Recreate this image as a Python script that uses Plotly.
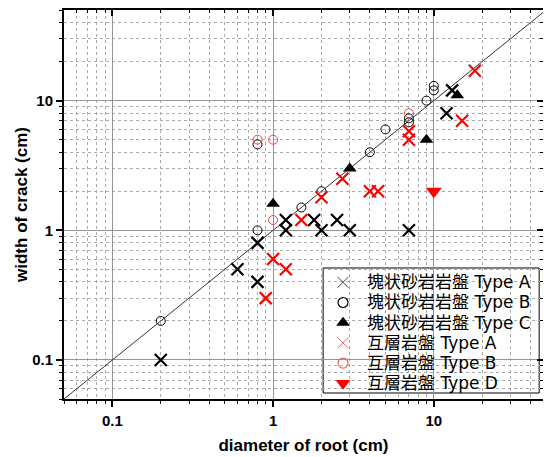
import math
import plotly.graph_objects as go

# Axis limits (log scale, both axes)
AX_MIN = 0.05
AX_MAX = 50.0
X_VIEW_MAX = 47.8

# 塊状砂岩岩盤 (massive sandstone bedrock)
blk_a_x = [0.2, 0.6, 0.8, 0.8, 1.2, 1.2, 1.8, 2.0, 2.5, 3.0, 7.0, 12.0, 13.0]
blk_a_y = [0.1, 0.5, 0.8, 0.4, 1.0, 1.2, 1.2, 1.0, 1.2, 1.0, 1.0, 8.0, 12.0]
blk_b_x = [0.2, 0.8, 0.8, 1.5, 2.0, 4.0, 5.0, 7.0, 7.0, 9.0, 10.0, 10.0]
blk_b_y = [0.2, 1.0, 4.6, 1.5, 2.0, 4.0, 6.0, 7.3, 6.8, 10.0, 12.0, 13.0]
blk_c_x = [1.0, 3.0, 9.0, 14.0]
blk_c_y = [1.6, 3.0, 5.0, 11.0]

# 互層岩盤 (alternating-layer bedrock)
red_a_x = [0.9, 1.0, 1.2, 1.5, 2.0, 2.7, 4.0, 4.5, 7.0, 7.0, 15.0, 18.0]
red_a_y = [0.3, 0.6, 0.5, 1.2, 1.8, 2.5, 2.0, 2.0, 5.8, 5.0, 7.0, 17.0]
red_b_x = [0.8, 1.0, 1.0, 7.0]
red_b_y = [5.0, 5.0, 1.2, 8.0]
red_d_x = [10.0]
red_d_y = [2.0]

legend_names = [
    "塊状砂岩岩盤 Type A",
    "塊状砂岩岩盤 Type B",
    "塊状砂岩岩盤 Type C",
    "互層岩盤 Type A",
    "互層岩盤 Type B",
    "互層岩盤 Type D",
]

major_vals = [0.1, 1, 10]
major_text = ["0.1", "1", "10"]
minor_vals = [m * 10 ** e for e in (-2, -1, 0, 1) for m in range(2, 10)
              if AX_MIN <= m * 10 ** e <= AX_MAX]

BLACK = "#000000"
RED = "#ff0000"
LIGHT_RED = "#ee4444"

fig = go.Figure()

# 1:1 reference line
fig.add_trace(go.Scatter(
    x=[AX_MIN, AX_MAX], y=[AX_MIN, AX_MAX], mode="lines",
    line=dict(color="#333333", width=1), showlegend=False, hoverinfo="skip"))

data_styles = [
    (blk_a_x, blk_a_y, dict(symbol="x-thin-open", size=12, color=BLACK,
                            line=dict(color=BLACK, width=2.2))),
    (blk_b_x, blk_b_y, dict(symbol="circle-open", size=9, color=BLACK,
                            line=dict(color=BLACK, width=1))),
    (blk_c_x, blk_c_y, dict(symbol="triangle-up", size=12, color=BLACK,
                            line=dict(width=0))),
    (red_a_x, red_a_y, dict(symbol="x-thin-open", size=12, color=RED,
                            line=dict(color=RED, width=2.2))),
    (red_b_x, red_b_y, dict(symbol="circle-open", size=9, color=LIGHT_RED,
                            line=dict(color=LIGHT_RED, width=1))),
    (red_d_x, red_d_y, dict(symbol="triangle-down", size=14, color=RED,
                            line=dict(width=0))),
]
for (xs, ys, mk), name in zip(data_styles, legend_names):
    fig.add_trace(go.Scatter(x=xs, y=ys, mode="markers", marker=mk,
                             name=name, showlegend=False, cliponaxis=False))

# ---- legend box (drawn by hand, in plot-area fractions) ----
LEG_X0, LEG_X1 = 0.541, 0.992
LEG_Y0, LEG_Y1 = 0.0154, 0.3368
LEG_ROW0 = 0.300
LEG_STEP = 0.0519
LEG_SWATCH_X = 0.5825
LEG_TEXT_X = 0.628

legend_styles = [
    dict(symbol="x-thin-open", size=11, color="#444444", line=dict(color="#444444", width=1)),
    dict(symbol="circle-open", size=10, color=BLACK, line=dict(color=BLACK, width=1.2)),
    dict(symbol="triangle-up", size=12, color=BLACK, line=dict(width=0)),
    dict(symbol="x-thin-open", size=11, color="#f06060", line=dict(color="#f06060", width=1)),
    dict(symbol="circle-open", size=10, color="#f06060", line=dict(color="#f06060", width=1.2)),
    dict(symbol="triangle-down", size=13, color=RED, line=dict(width=0)),
]
row_y = [LEG_ROW0 - i * LEG_STEP for i in range(len(legend_names))]

fig.add_shape(type="rect", xref="paper", yref="paper",
              x0=LEG_X0, x1=LEG_X1, y0=LEG_Y0, y1=LEG_Y1,
              fillcolor="white", line=dict(color="black", width=1),
              layer="between")

for mk, yy in zip(legend_styles, row_y):
    fig.add_trace(go.Scatter(x=[LEG_SWATCH_X], y=[yy], xaxis="x3", yaxis="y3",
                             mode="markers", marker=mk, showlegend=False,
                             hoverinfo="skip", cliponaxis=False))

for name, yy in zip(legend_names, row_y):
    fig.add_annotation(x=LEG_TEXT_X, y=yy, xref="paper", yref="paper",
                       text=name, showarrow=False, xanchor="left",
                       yanchor="middle",
                       font=dict(family="DejaVu Sans, Noto Sans CJK JP",
                                 size=17, color="black"))

# empty trace so the mirrored top/right axes get drawn
fig.add_trace(go.Scatter(x=[], y=[], xaxis="x2", yaxis="y2",
                         showlegend=False, hoverinfo="skip"))

lx0, lx1 = math.log10(AX_MIN), math.log10(X_VIEW_MAX)
ly0, ly1 = math.log10(AX_MIN), math.log10(AX_MAX)

tick_font = dict(family="Liberation Sans, Arial, sans-serif", size=15,
                 color="black", weight="bold")
title_font = dict(family="Liberation Sans, Arial, sans-serif", size=17,
                  color="black", weight="bold")

common = dict(
    type="log", showline=True, linecolor="black", linewidth=2,
    tickvals=major_vals, ticktext=major_text, tickcolor="black", tickwidth=1.5,
    zeroline=False,
)

fig.update_layout(
    width=544, height=457,
    margin=dict(l=64, r=1, t=10, b=58),
    paper_bgcolor="white", plot_bgcolor="white",
    showlegend=False,
    xaxis=dict(
        **common, range=[lx0, lx1], ticks="outside", ticklen=6,
        showgrid=True, gridcolor="#959595", gridwidth=1,
        tickfont=tick_font, ticklabelstandoff=1,
        title=dict(text="diameter of root (cm)", font=title_font, standoff=11),
        minor=dict(tickvals=minor_vals, ticks="outside", ticklen=3,
                   tickcolor="black", tickwidth=1.2, showgrid=True,
                   gridcolor="#aaaaaa", griddash="dot", gridwidth=1),
    ),
    yaxis=dict(
        **common, range=[ly0, ly1], ticks="outside", ticklen=6,
        showgrid=True, gridcolor="#959595", gridwidth=1,
        tickfont=tick_font,
        title=dict(text="width of crack (cm)", font=title_font, standoff=0),
        minor=dict(tickvals=minor_vals, ticks="outside", ticklen=3,
                   tickcolor="black", tickwidth=1.2, showgrid=True,
                   gridcolor="#aaaaaa", griddash="dot", gridwidth=1),
    ),
    xaxis2=dict(
        **common, range=[lx0, lx1], overlaying="x", side="top", anchor="y2",
        ticks="inside", ticklen=6, showticklabels=False, showgrid=False,
        minor=dict(tickvals=minor_vals, ticks="inside", ticklen=3,
                   tickcolor="black", tickwidth=1.2, showgrid=False),
    ),
    yaxis2=dict(
        type="log", range=[ly0, ly1], overlaying="y", side="right", anchor="x2",
        showline=False, zeroline=False, tickvals=major_vals,
        ticks="inside", ticklen=6, tickcolor="black", tickwidth=1.5,
        showticklabels=False, showgrid=False,
        minor=dict(tickvals=minor_vals, ticks="inside", ticklen=3,
                   tickcolor="black", tickwidth=1.2, showgrid=False),
    ),
    xaxis3=dict(overlaying="x", range=[0, 1], visible=False, anchor="y3"),
    yaxis3=dict(overlaying="y", range=[0, 1], visible=False, anchor="x3"),
)

fig.write_html("out.html")
